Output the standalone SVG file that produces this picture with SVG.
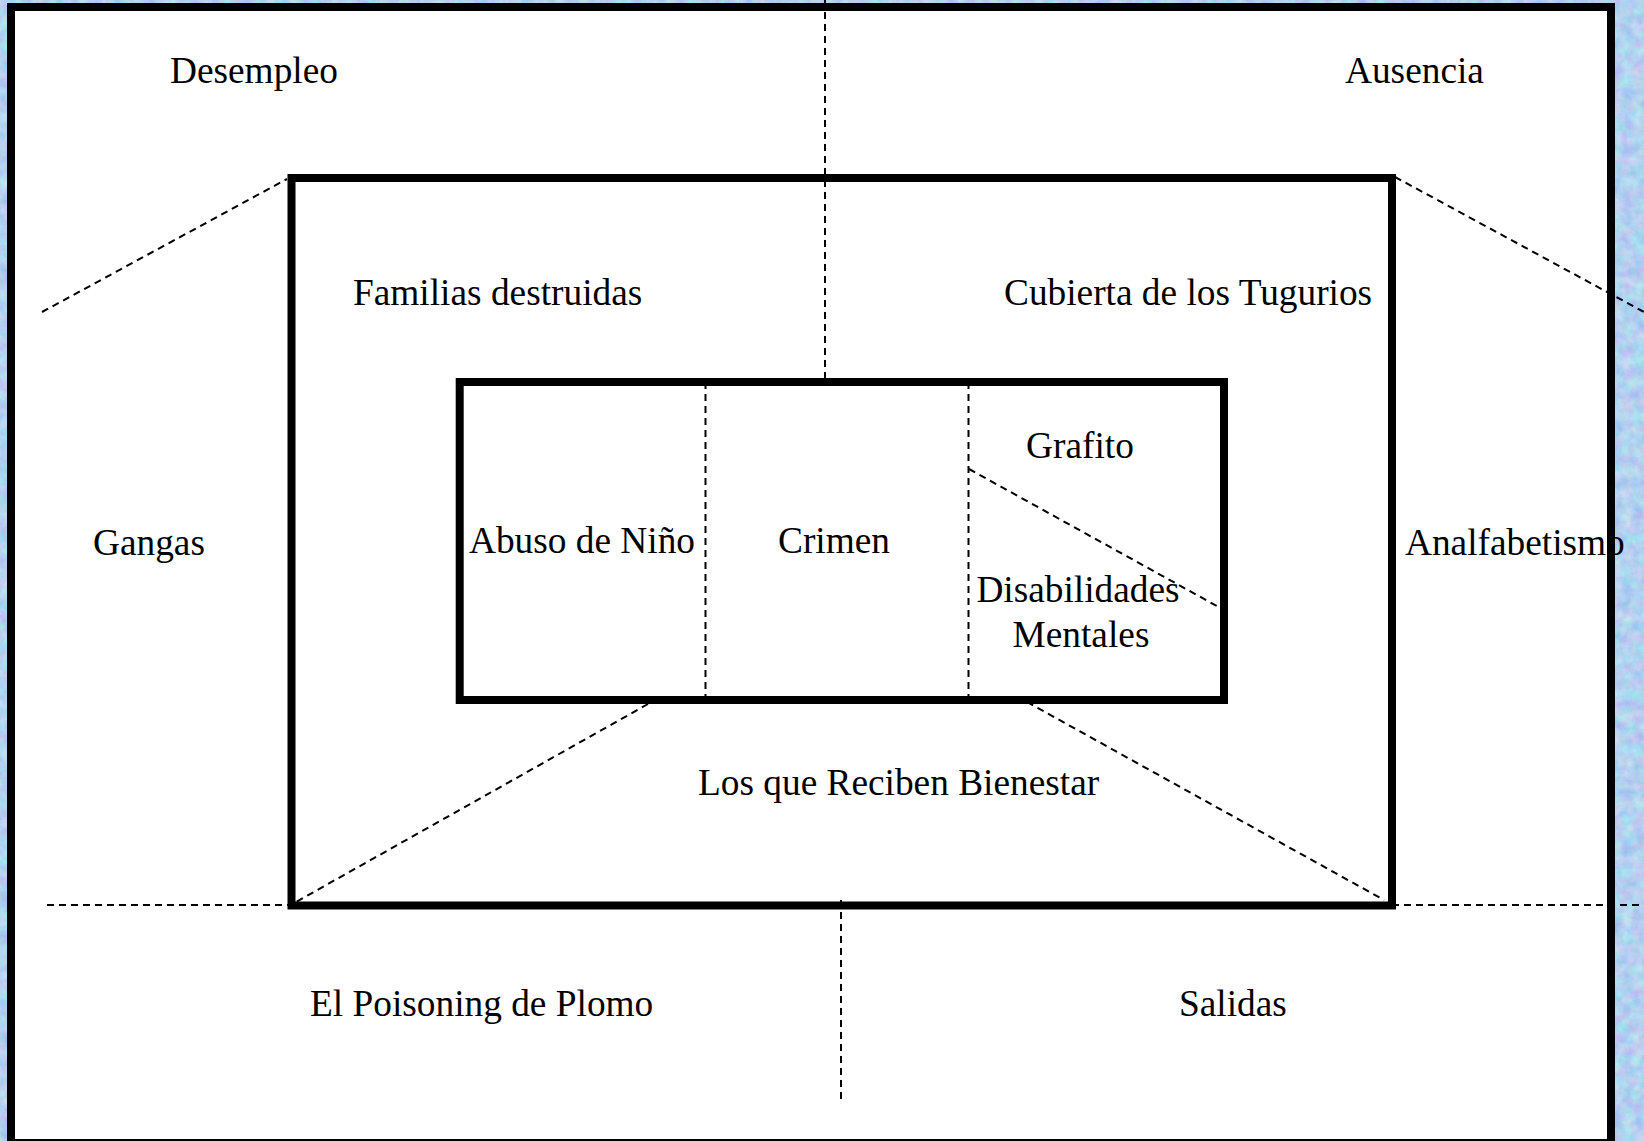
<svg xmlns="http://www.w3.org/2000/svg" width="1644" height="1141" viewBox="0 0 1644 1141">
  <style>
    .box { fill: none; stroke: #000; stroke-width: 8; }
    .dash { fill: none; stroke: #000; stroke-width: 2; stroke-dasharray: 7 5; }
    .lbl { font-family: "Liberation Serif", "Times New Roman", serif; font-size: 37.33px; fill: #000; }
  </style>
  <defs>
    <filter id="tex" x="0" y="0" width="100%" height="100%" color-interpolation-filters="sRGB">
      <feTurbulence type="fractalNoise" baseFrequency="0.09" numOctaves="3" seed="4" result="n"/>
      <feColorMatrix in="n" type="matrix" values="0.3 0 0 0 0.55  0 0.25 -0.05 0 0.72  0 0 0.08 0 0.9  0 0 0 0 1"/>
    </filter>
  </defs>
  <rect x="0" y="0" width="1644" height="1141" fill="#b6cdf0"/>
  <rect x="0" y="0" width="1644" height="1141" filter="url(#tex)"/>
  <g id="outer-box">
    <rect x="11" y="7" width="1600" height="1136" fill="#fff" stroke="none"/>
  </g>
  <g id="labels">
    <g id="n-desempleo"><text class="lbl" x="170" y="83">Desempleo</text></g>
    <g id="n-ausencia"><text class="lbl" x="1345" y="83">Ausencia</text></g>
    <g id="n-familias"><text class="lbl" x="353" y="305">Familias destruidas</text></g>
    <g id="n-tugurios"><text class="lbl" x="1004" y="305">Cubierta de los Tugurios</text></g>
    <g id="n-gangas"><text class="lbl" x="93" y="555">Gangas</text></g>
    <g id="n-analfabetismo"><text class="lbl" x="1405" y="555">Analfabetismo</text></g>
    <g id="n-abuso"><text class="lbl" x="469" y="553">Abuso de Niño</text></g>
    <g id="n-crimen"><text class="lbl" x="778" y="553">Crimen</text></g>
    <g id="n-grafito"><text class="lbl" x="1026" y="458">Grafito</text></g>
    <g id="n-disabilidades"><text class="lbl" x="1078" y="602" text-anchor="middle">Disabilidades</text><text class="lbl" x="1081" y="647" text-anchor="middle">Mentales</text></g>
    <g id="n-bienestar"><text class="lbl" x="698" y="795">Los que Reciben Bienestar</text></g>
    <g id="n-plomo"><text class="lbl" x="310" y="1016">El Poisoning de Plomo</text></g>
    <g id="n-salidas"><text class="lbl" x="1179" y="1016">Salidas</text></g>
  </g>
  <g id="connectors">
    <line class="dash" x1="825" y1="0" x2="825" y2="382"/>
    <line class="dash" x1="841" y1="900" x2="841" y2="1103"/>
    <line class="dash" x1="47" y1="905" x2="291" y2="905"/>
    <line class="dash" x1="1392" y1="905" x2="1644" y2="905"/>
    <line class="dash" x1="42" y1="312" x2="287" y2="179"/>
    <line class="dash" x1="1395" y1="177" x2="1644" y2="312"/>
    <line class="dash" x1="648" y1="704" x2="296" y2="902"/>
    <line class="dash" x1="1027" y1="702" x2="1384" y2="900"/>
    <line class="dash" x1="705.5" y1="382" x2="705.5" y2="700"/>
    <line class="dash" x1="968.5" y1="382" x2="968.5" y2="700"/>
    <line class="dash" x1="969" y1="469" x2="1224" y2="610"/>
  </g>
  <g id="boxes">
    <rect id="outer-frame" class="box" x="11" y="7" width="1600" height="1136"/>
    <rect id="middle-box" class="box" x="291.5" y="178" width="1100.5" height="727.5" stroke-width="7.5"/>
    <rect id="inner-box" class="box" x="459.7" y="382" width="764.3" height="318"/>
  </g>
</svg>
